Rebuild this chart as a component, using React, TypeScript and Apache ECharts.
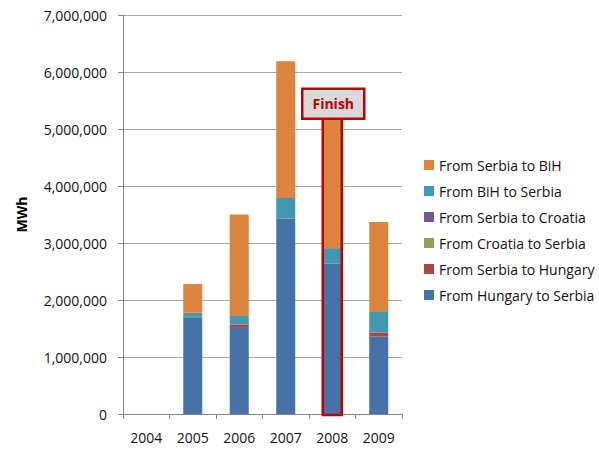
import React, { useEffect, useRef } from "react";
import * as echarts from "echarts";

const years = ["2004", "2005", "2006", "2007", "2008", "2009"];
const hungaryToSerbia = [0, 1690000, 1510000, 3430000, 2640000, 1360000];
const serbiaToHungary = [0, 15000, 60000, 0, 0, 70000];
const croatiaToSerbia = [0, 0, 0, 0, 0, 0];
const serbiaToCroatia = [0, 0, 0, 0, 0, 0];
const bihToSerbia = [0, 75000, 150000, 360000, 270000, 360000];
const serbiaToBih = [0, 500000, 1780000, 2400000, 2400000, 1580000];

const seriesNames = [
  "From Hungary to Serbia",
  "From Serbia to Hungary",
  "From Croatia to Serbia",
  "From Serbia to Croatia",
  "From BiH to Serbia",
  "From Serbia to BiH",
];
const seriesData = [hungaryToSerbia, serbiaToHungary, croatiaToSerbia, serbiaToCroatia, bihToSerbia, serbiaToBih];
const seriesColors = ["#4572a7", "#aa4643", "#89a54e", "#71588f", "#4198af", "#db843d"];

const yTicks = [0, 1000000, 2000000, 3000000, 4000000, 5000000, 6000000, 7000000];

const finishYear = "2008";
const finishBottomValue = 5180000;
const FONT = "'Open Sans', sans-serif";
const BAR_W = 19;

export default function App() {
  const ref = useRef<HTMLDivElement>(null);
  useEffect(() => {
    if (!ref.current) return;
    const chart = echarts.init(ref.current, undefined, { renderer: "svg" });
    chart.setOption({
      animation: false,
      textStyle: { fontFamily: FONT },
      grid: { left: 123, right: 197, top: 15, bottom: 40 },
      legend: {
        orient: "vertical",
        left: 419,
        top: 153,
        icon: "rect",
        itemWidth: 10,
        itemHeight: 10,
        itemGap: 12,
        data: [...seriesNames].reverse(),
        textStyle: { fontFamily: FONT, fontSize: 14, color: "#111", lineHeight: 14, padding: [0, 0, 0, 0] },
      },
      xAxis: {
        type: "category",
        data: years,
        axisLine: { lineStyle: { color: "#868686" } },
        axisTick: { show: true, length: 5, lineStyle: { color: "#868686" } },
        axisLabel: { fontFamily: FONT, fontSize: 14, color: "#111", margin: 16 },
      },
      yAxis: {
        type: "value",
        min: yTicks[0],
        max: yTicks[yTicks.length - 1],
        interval: 1000000,
        name: "MWh",
        nameLocation: "middle",
        nameGap: 95,
        nameTextStyle: { fontFamily: FONT, fontSize: 14, fontWeight: "bold", color: "#000" },
        axisLine: { show: true, lineStyle: { color: "#868686" } },
        axisTick: { show: true, length: 5, lineStyle: { color: "#868686" } },
        splitLine: { lineStyle: { color: "#a8a8a8" } },
        axisLabel: {
          fontFamily: FONT,
          fontSize: 14,
          color: "#111",
          margin: 16,
          formatter: (v: number) => v.toLocaleString("en-US"),
        },
      },
      series: seriesNames.map((name, i) => ({
        name,
        type: "bar",
        stack: "total",
        barWidth: BAR_W,
        data: seriesData[i],
        itemStyle: { color: seriesColors[i] },
      })),
    });

    const [cx, yBottom] = chart.convertToPixel({ xAxisIndex: 0, yAxisIndex: 0 }, [finishYear, finishBottomValue]) as number[];
    const [, y0] = chart.convertToPixel({ xAxisIndex: 0, yAxisIndex: 0 }, [finishYear, 0]) as number[];
    const boxW = 62;
    const boxH = 30;
    chart.setOption({
      graphic: [
        {
          type: "rect",
          shape: { x: cx - BAR_W / 2, y: yBottom, width: BAR_W, height: y0 - yBottom + 1 },
          style: { fill: "none", stroke: "#c00000", lineWidth: 2.5 },
          z: 100,
        },
        {
          type: "rect",
          shape: { x: cx - boxW / 2 + 1, y: yBottom - boxH, width: boxW, height: boxH },
          style: { fill: "#d9d9d9", stroke: "#c00000", lineWidth: 2.5 },
          z: 101,
        },
        {
          type: "text",
          x: cx + 1,
          y: yBottom - boxH / 2,
          style: {
            text: "Finish",
            fill: "#c00000",
            font: `bold 14px ${FONT}`,
            align: "center",
            verticalAlign: "middle",
          },
          z: 102,
        },
      ],
    });
    return () => chart.dispose();
  }, []);
  return <div ref={ref} style={{ width: 599, height: 454, position: "absolute", left: 0, top: 0 }} />;
}
